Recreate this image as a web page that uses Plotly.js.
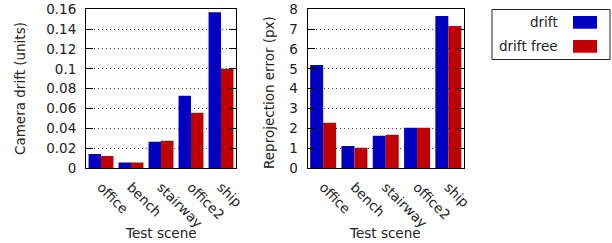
<!DOCTYPE html>
<html><head><meta charset="utf-8">
<script src="https://cdn.plot.ly/plotly-3.0.1.min.js"></script>
<style>html,body{margin:0;padding:0;background:#fff}</style>
</head><body>
<div id="chart" style="width:612px;height:243px"></div>
<script>
const scenes = ["office", "bench", "stairway", "office2", "ship"];
const driftCam = [0.0141, 0.0055, 0.0265, 0.0728, 0.157];
const freeCam = [0.0122, 0.0055, 0.0275, 0.0557, 0.100];
const driftReproj = [5.19, 1.11, 1.62, 2.03, 7.66];
const freeReproj = [2.28, 1.02, 1.67, 2.03, 7.16];
const camTicks = [0, 0.02, 0.04, 0.06, 0.08, 0.1, 0.12, 0.14, 0.16];
const camTickText = ["0", "0.02", "0.04", "0.06", "0.08", "0.1", "0.12", "0.14", "0.16"];
const reprojTicks = [0, 1, 2, 3, 4, 5, 6, 7, 8];
const seriesNames = ["drift", "drift free"];
const BLUE = "#0000c0", RED = "#c00000";
const FONT = "DejaVu Sans, sans-serif";
const FS = 13.5;

const traces = [
  {type: "bar", x: scenes, y: driftCam, name: seriesNames[0], marker: {color: BLUE}, xaxis: "x", yaxis: "y", showlegend: false},
  {type: "bar", x: scenes, y: freeCam, name: seriesNames[1], marker: {color: RED}, xaxis: "x", yaxis: "y", showlegend: false},
  {type: "bar", x: scenes, y: driftReproj, name: seriesNames[0], marker: {color: BLUE}, xaxis: "x2", yaxis: "y2", showlegend: false},
  {type: "bar", x: scenes, y: freeReproj, name: seriesNames[1], marker: {color: RED}, xaxis: "x2", yaxis: "y2", showlegend: false}
];

const W = 612, H = 243;
const px = v => v / W, py = v => 1 - v / H;
const yDom = [py(168), py(9.3)];

function xAx(dom, anchor) {
  return {domain: dom, anchor: anchor, type: "category", tickangle: 45,
    showline: true, linecolor: "#000", linewidth: 1, mirror: true, ticks: "",
    showgrid: false, ticklabelstandoff: 5,
    tickfont: {family: FONT, size: FS, color: "#222"}};
}
function yAx(anchor, range, vals, text) {
  return {anchor: anchor, domain: yDom, range: range, tickmode: "array", tickvals: vals, ticktext: text,
    showline: true, linecolor: "#000", linewidth: 1, mirror: "ticks", ticks: "inside", ticklen: 7, tickcolor: "#000",
    showgrid: true, gridcolor: "#444", griddash: "1px,3px", gridwidth: 1, zeroline: false,
    ticklabelstandoff: 6,
    tickfont: {family: FONT, size: FS, color: "#222"}};
}

const tfont = {family: FONT, size: FS, color: "#222"};
function ann(x, y, text, extra) {
  return Object.assign({xref: "paper", yref: "paper", x: px(x), y: py(y), text: text, showarrow: false,
    xanchor: "center", yanchor: "middle", font: tfont}, extra || {});
}
const layout = {
  width: W, height: H, margin: {l: 0, r: 0, t: 0, b: 0},
  paper_bgcolor: "#fff", plot_bgcolor: "#fff",
  barmode: "group", bargap: 0.17, bargroupgap: 0,
  showlegend: false,
  xaxis: xAx([px(86), px(236)], "y"),
  yaxis: yAx("x", [0, 0.16], camTicks, camTickText),
  xaxis2: xAx([px(307.5), px(464)], "y2"),
  yaxis2: yAx("x2", [0, 8], reprojTicks, reprojTicks.map(String)),
  shapes: [
    {type: "rect", xref: "paper", yref: "paper", x0: px(492), x1: px(610), y0: py(59.5), y1: py(9.5), line: {color: "#222", width: 1}},
    {type: "rect", xref: "paper", yref: "paper", x0: px(573), x1: px(597), y0: py(28.7), y1: py(16), fillcolor: BLUE, line: {width: 0}},
    {type: "rect", xref: "paper", yref: "paper", x0: px(573), x1: px(597), y0: py(52.7), y1: py(40), fillcolor: RED, line: {width: 0}}
  ],
  annotations: [
    ann(20, 89, "Camera drift (units)", {textangle: -90}),
    ann(269, 93, "Reprojection error (px)", {textangle: -90}),
    ann(161, 233, "Test scene"),
    ann(385, 233, "Test scene"),
    ann(560, 22.5, seriesNames[0], {xanchor: "right"}),
    ann(560, 46.5, seriesNames[1], {xanchor: "right"})
  ]
};
Plotly.newPlot("chart", traces, layout, {staticPlot: true, displayModeBar: false});
</script>
</body></html>
